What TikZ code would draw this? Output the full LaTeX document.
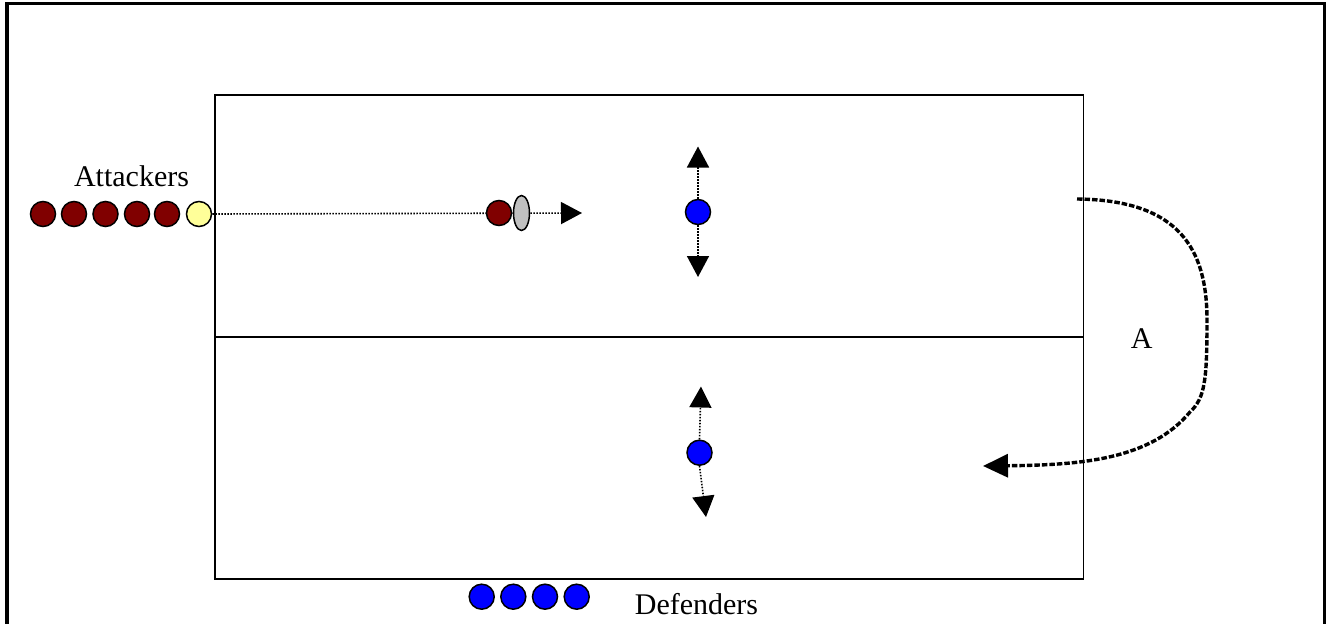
\documentclass[tikz,border=0pt]{standalone}
\usepackage{fontspec}
\setmainfont{Liberation Serif}
\usetikzlibrary{arrows.meta,shapes.geometric,backgrounds}
\definecolor{attackred}{HTML}{800000}
\definecolor{ballyellow}{HTML}{FFFF99}
\definecolor{defblue}{HTML}{0000FF}
\definecolor{ballgrey}{HTML}{C0C0C0}
\tikzset{
  player/.style={circle, draw=black, line width=1.5pt, minimum size=25pt, inner sep=0pt},
  attacker/.style={player, fill=attackred},
  carrier/.style={player, fill=ballyellow},
  defender/.style={player, fill=defblue},
  ballshape/.style={ellipse, draw=black, line width=1.5pt, fill=ballgrey, minimum width=16pt, minimum height=35pt, inner sep=0pt},
  runline/.style={line width=1.6pt, dash pattern=on 1.5pt off 1.5pt, -{Triangle[length=21pt,width=22pt]}},
  rotation/.style={line width=3.4pt, dash pattern=on 5.5pt off 2pt, -{Triangle[length=25pt,width=23pt]}},
  label/.style={font=\fontsize{30}{36}\selectfont, inner sep=0pt, anchor=base},
  frameline/.style={line width=3.2pt},
  fieldline/.style={line width=1.7pt}
}
\begin{document}
\begin{tikzpicture}[x=1pt,y=-1pt]
\useasboundingbox (0,0) rectangle (1326,624);
% outer frame
\draw[frameline] (7,640) -- (7,3.5) -- (1325,3.5) -- (1325,640);
% playing area split into two channels
\draw[fieldline] (215,95) rectangle (1083.5,579);
\draw[fieldline] (215,336.7) -- (1083.5,336.7);

% attackers queue
\node[attacker] (a1) at (43,214) {};
\node[attacker] (a2) at (74,214) {};
\node[attacker] (a3) at (105.5,214) {};
\node[attacker] (a4) at (137,214) {};
\node[attacker] (a5) at (167,214) {};
\node[carrier]  (a6) at (199,214) {};
\node[label] (att) at (131.5,186.7) {Attackers};

% ball carrier running in
\node[attacker]  (run) at (499,213) {};
\node[ballshape] (ball) at (521.5,213) {};
\coordinate (runend) at (582,213);

% defenders in the channels
\node[defender] (d1) at (698,212) {};
\coordinate (d1up) at (698,146.5);
\coordinate (d1dn) at (698,277);
\node[defender] (d2) at (699.5,452.7) {};
\coordinate (d2up) at (701,386.5);
\coordinate (d2dn) at (706,517);

% defenders queue
\node[defender] (q1) at (481.7,596.7) {};
\node[defender] (q2) at (513.3,596.7) {};
\node[defender] (q3) at (545,596.7) {};
\node[defender] (q4) at (576.7,596.7) {};
\node[label] (def) at (696.5,614.3) {Defenders};

% rotation
\coordinate (rotstart) at (1077,199);
\coordinate (rotend) at (983,466);
\node[label] (rotlabel) at (1141.7,348.3) {A};

\begin{pgfonlayer}{background}
\draw[runline] (a6.east) -- (runend);
\end{pgfonlayer}
\draw[runline] (d1.north) -- (d1up);
\draw[runline] (d1.south) -- (d1dn);
\draw[runline] (d2.north) -- (d2up);
\draw[runline] (d2.south) -- (d2dn);
\draw[rotation] (rotstart) .. controls (1180,200) and (1207,250) .. (1207,320)
  .. controls (1207,380) and (1205,398) .. (1190,412)
  .. controls (1150,460) and (1080,465) .. (rotend);
\end{tikzpicture}
\end{document}
